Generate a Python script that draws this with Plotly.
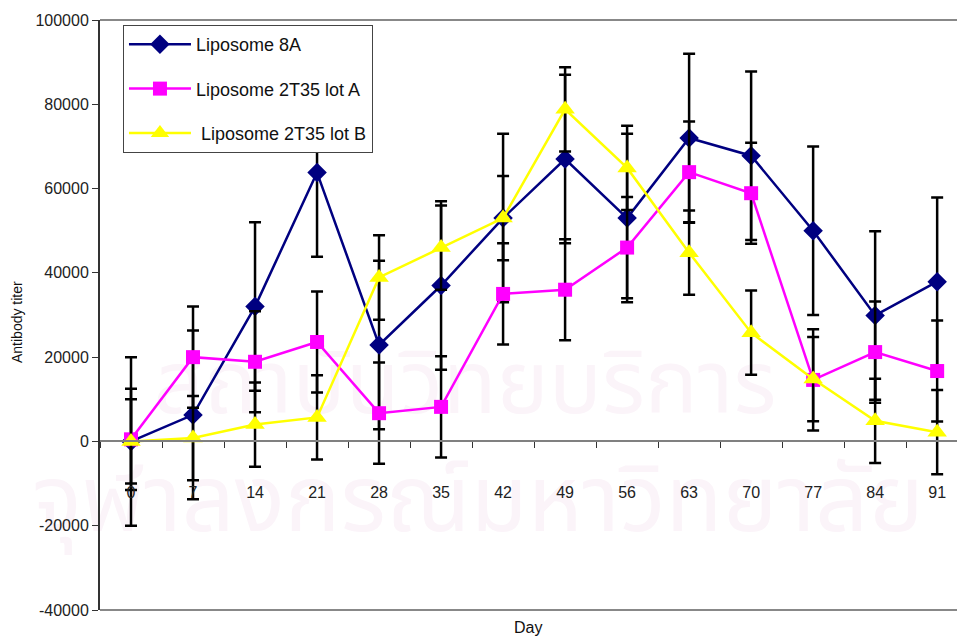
import plotly.graph_objects as go

days = [0, 7, 14, 21, 28, 35, 42, 49, 56, 63, 70, 77, 84, 91]
day_labels = [str(d) for d in days]

lipo_8a = [0, 6300, 32000, 63800, 22900, 37000, 53000, 67000, 53000, 72000, 67800, 50000, 29900, 37900]
lipo_8a_err = [20000] * 14

lot_a = [500, 20000, 18900, 23600, 6700, 8200, 35000, 36000, 46000, 63900, 58900, 14600, 21200, 16700]
lot_a_err = [12000] * 14

lot_b = [0, 800, 4000, 5700, 38900, 46000, 53000, 78800, 64900, 44800, 25800, 14800, 4900, 2200]
lot_b_err = [10000] * 14

series_names = ["Liposome 8A", "Liposome 2T35 lot A", "\u00a0Liposome 2T35 lot B"]
y_ticks = [-40000, -20000, 0, 20000, 40000, 60000, 80000, 100000]
watermark_lines = ["สถาบันวิทยบริการ", "จุฬาลงกรณ์มหาวิทยาลัย"]

fig = go.Figure()

specs = [
    (lipo_8a, lipo_8a_err, series_names[0], "#000080", "diamond", 15),
    (lot_a, lot_a_err, series_names[1], "#FF00FF", "square", 14),
    (lot_b, lot_b_err, series_names[2], "#FFFF00", "triangle-up", 17),
]
for i, (vals, errs, name, color, sym, size) in enumerate(specs):
    fig.add_trace(go.Scatter(
        x=day_labels, y=vals, name=name, mode="lines+markers",
        line=dict(color=color, width=2.5),
        marker=dict(symbol=sym, size=size, color=color),
        error_y=dict(type="data", array=errs, visible=True, color="black",
                     thickness=2.5, width=6),
        legendgroup="g%d" % i,
        cliponaxis=False,
    ))

wm_color = "#fbf4f9"
wm_font = "Noto Sans Thai, Noto Sans, sans-serif"
fig.update_layout(
    width=957, height=638,
    margin=dict(l=100, r=0, t=20, b=28),
    paper_bgcolor="white", plot_bgcolor="rgba(0,0,0,0)",
    font=dict(family="Liberation Sans, Arial, sans-serif", color="#111"),
    showlegend=True,
    legend=dict(
        x=0.0268, y=0.9915, xanchor="left", yanchor="top",
        bgcolor="white", bordercolor="#444", borderwidth=1,
        font=dict(size=18, color="#111"),
        traceorder="grouped", tracegroupgap=18, itemwidth=62,
    ),
    xaxis=dict(
        type="category", range=[-0.5, 13.32],
        tickson="boundaries", ticks="outside", ticklen=6, tickwidth=1, tickcolor="#333",
        showline=True, linecolor="#808080", linewidth=2,
        showgrid=False, zeroline=False,
        anchor="free", position=(0 - (-40000)) / 140000,
        tickfont=dict(size=16, color="#222"),
        ticklabelstandoff=36,
    ),
    yaxis=dict(
        range=[-40000, 100000], tickvals=y_ticks, ticktext=[str(v) for v in y_ticks],
        ticks="outside", ticklen=6, tickcolor="#333",
        showline=True, linecolor="#333", linewidth=2,
        showgrid=False, zeroline=False,
        tickfont=dict(size=16, color="#222"),
    ),
    shapes=[
        dict(type="line", xref="paper", yref="paper", x0=0, x1=1, y0=1, y1=1,
             line=dict(color="#888", width=2)),
        dict(type="line", xref="paper", yref="paper", x0=0, x1=1, y0=0, y1=0,
             line=dict(color="#888", width=2)),
        dict(type="rect", xref="paper", yref="paper",
             x0=(465 - 100) / 857 - 0.3, x1=(465 - 100) / 857 + 0.3,
             y0=0.371 - 0.06, y1=0.371 + 0.06,
             line=dict(width=0), fillcolor="rgba(0,0,0,0)", layer="below",
             label=dict(text=watermark_lines[0], font=dict(size=88, color=wm_color, family=wm_font),
                        textposition="middle center")),
        dict(type="rect", xref="paper", yref="paper",
             x0=(478 - 100) / 857 - 0.5, x1=(478 - 100) / 857 + 0.5,
             y0=0.172 - 0.06, y1=0.172 + 0.06,
             line=dict(width=0), fillcolor="rgba(0,0,0,0)", layer="below",
             label=dict(text=watermark_lines[1], font=dict(size=93, color=wm_color, family=wm_font),
                        textposition="middle center")),
    ],
    annotations=[
        dict(text="Antibody titer", xref="paper", yref="paper",
             x=(17 - 100) / 857, y=(610 - 322) / 590, textangle=-90,
             showarrow=False, font=dict(size=14, color="#111"),
             xanchor="center", yanchor="middle"),
        dict(text="Day", xref="paper", yref="paper",
             x=(528 - 100) / 857, y=(610 - 627) / 590,
             showarrow=False, font=dict(size=16, color="#111"),
             xanchor="center", yanchor="middle"),
    ],
)

fig.write_html("out.html")
